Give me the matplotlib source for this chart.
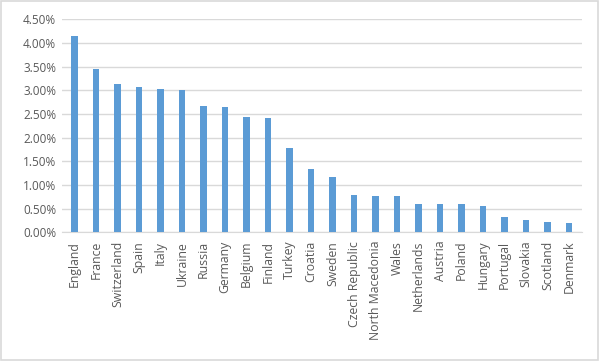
import matplotlib
matplotlib.use("Agg")
import matplotlib.pyplot as plt
from matplotlib.ticker import FuncFormatter, MultipleLocator
from matplotlib.patches import Rectangle

countries = ["England", "France", "Switzerland", "Spain", "Italy", "Ukraine",
             "Russia", "Germany", "Belgium", "Finland", "Turkey", "Croatia",
             "Sweden", "Czech Republic", "North Macedonia", "Wales",
             "Netherlands", "Austria", "Poland", "Hungary", "Portugal",
             "Slovakia", "Scotland", "Denmark"]
share = [4.15, 3.45, 3.13, 3.07, 3.03, 3.00, 2.67, 2.65, 2.44, 2.42, 1.79,
         1.34, 1.18, 0.80, 0.78, 0.78, 0.60, 0.60, 0.60, 0.55, 0.32, 0.27,
         0.23, 0.21]

plt.rcParams["font.family"] = ["Open Sans", "DejaVu Sans"]

fig = plt.figure(figsize=(6, 3.61), dpi=100)
# thin grey chart-area border
fig.patches.append(Rectangle((0.002, 0.003), 0.995, 0.993, transform=fig.transFigure,
                             fill=False, edgecolor="#d9d9d9", linewidth=1.2))
ax = fig.add_axes([0.103, 0.356, 0.867, 0.591])

x = range(len(countries))
ax.bar(x, share, width=0.3, color="#5b9bd5", zorder=3)

ax.set_xlim(-0.6, len(countries) - 0.4)
ax.set_ylim(0, 4.5)
ax.yaxis.set_major_locator(MultipleLocator(0.5))
ax.yaxis.set_major_formatter(FuncFormatter(lambda v, _: f"{v:.2f}%"))
ax.set_xticks(list(x))
ax.set_xticklabels(countries, rotation=90)
ax.grid(axis="y", color="#d9d9d9", linewidth=1, zorder=0)
for s in ["top", "right", "left"]:
    ax.spines[s].set_visible(False)
ax.spines["bottom"].set_color("#d9d9d9")
ax.tick_params(length=0, labelsize=8.5, colors="#595959")
ax.tick_params(axis="x", pad=6, labelsize=8.8)
ax.tick_params(axis="y", pad=4)

fig.savefig("out.png", dpi=100)
